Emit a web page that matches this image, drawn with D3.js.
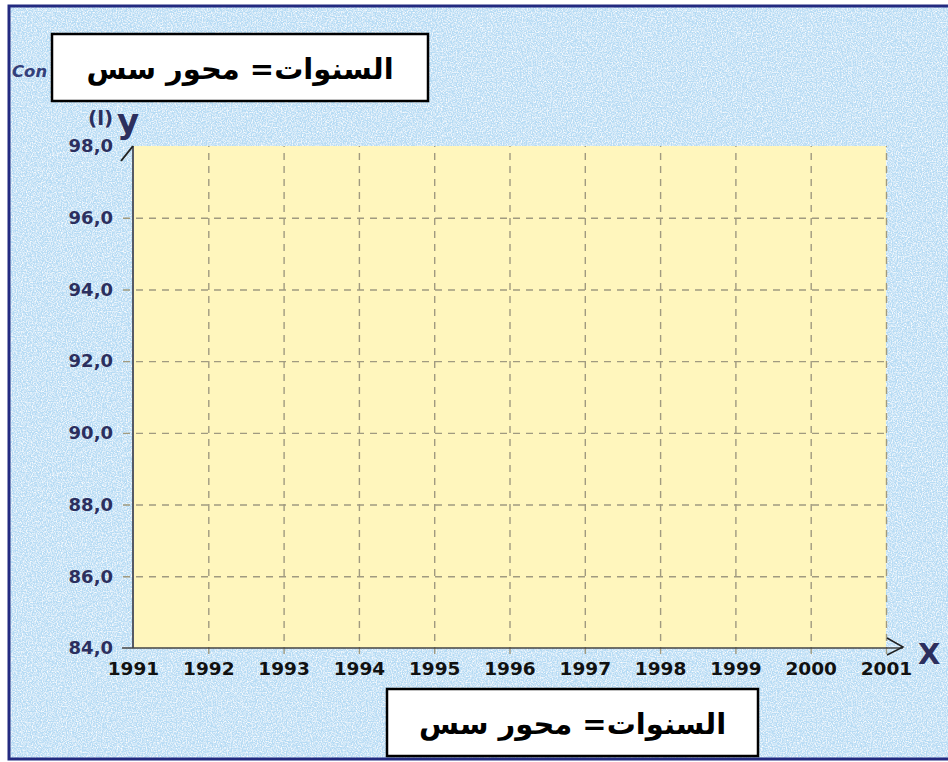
<!DOCTYPE html>
<html>
<head>
<meta charset="utf-8">
<script src="https://cdn.jsdelivr.net/npm/d3@7"></script>
<style>
html,body{margin:0;padding:0;background:#ffffff;}
svg{display:block;}
</style>
</head>
<body>
<script>
// ---- data ----
const years = [1991, 1992, 1993, 1994, 1995, 1996, 1997, 1998, 1999, 2000, 2001];
const yTicks = [84, 86, 88, 90, 92, 94, 96, 98];
const yDomain = [84, 98];
const xDomain = [1991, 2001];
const boxLabel = "السنوات= محور سس";
const hiddenTitle = "Con";
const yUnit = "(l)";
const yName = "y";
const xName = "X";

const W = 948, H = 762;
const svg = d3.select("body").append("svg").attr("width", W).attr("height", H);
const defs = svg.append("defs");

// textured light-blue background
const f = defs.append("filter").attr("id", "tex").attr("x", 0).attr("y", 0).attr("width", "100%").attr("height", "100%");
f.append("feTurbulence").attr("type", "fractalNoise").attr("baseFrequency", 0.8).attr("numOctaves", 2).attr("seed", 3).attr("result", "n");
f.append("feColorMatrix").attr("in", "n").attr("type", "matrix")
  .attr("values", "0 0 0 0 1  0 0 0 0 1  0 0 0 0 1  2.2 0 0 0 -0.85").attr("result", "w");
f.append("feComposite").attr("in", "w").attr("in2", "SourceGraphic").attr("operator", "atop");

svg.append("rect").attr("x", 0).attr("y", 0).attr("width", W).attr("height", H).attr("fill", "#ffffff");
svg.append("rect").attr("x", 9).attr("y", 6).attr("width", W).attr("height", 753)
  .attr("fill", "#b6dbf4").attr("filter", "url(#tex)");
svg.append("rect").attr("x", 9).attr("y", 6).attr("width", W + 10).attr("height", 753)
  .attr("fill", "none").attr("stroke", "#232a80").attr("stroke-width", 3);

// scales
const x = d3.scaleLinear().domain(xDomain).range([133, 886]);
const y = d3.scaleLinear().domain(yDomain).range([648, 146]);

// title fragment visible left of the box
svg.append("text").attr("x", 12).attr("y", 77).text(hiddenTitle)
  .attr("font-family", "DejaVu Sans").attr("font-weight", "bold").attr("font-style", "italic")
  .attr("font-size", 16.5).attr("fill", "#34407a");

// plot background
svg.append("rect").attr("x", x(xDomain[0])).attr("y", y(yDomain[1]))
  .attr("width", x(xDomain[1]) - x(xDomain[0])).attr("height", y(yDomain[0]) - y(yDomain[1]))
  .attr("fill", "#fff6bd");

// grid via axes
const gridY = svg.append("g").attr("transform", `translate(${x(xDomain[0])},0)`)
  .call(d3.axisLeft(y).tickValues(yTicks).tickSize(-(x(xDomain[1]) - x(xDomain[0]))).tickFormat(""));
gridY.select(".domain").remove();
gridY.selectAll(".tick line").attr("stroke", "#a09a80").attr("stroke-width", 1.4).attr("stroke-dasharray", "7,6")
  .attr("x1", -10)
  .filter(d => d === yDomain[0] || d === yDomain[1]).attr("stroke", "none");

const gridX = svg.append("g").attr("transform", `translate(0,${y(yDomain[0])})`)
  .call(d3.axisBottom(x).tickValues(years).tickSize(-(y(yDomain[0]) - y(yDomain[1]))).tickFormat(""));
gridX.select(".domain").remove();
gridX.selectAll(".tick line").attr("stroke", "#a09a80").attr("stroke-width", 1.4).attr("stroke-dasharray", "7,6")
  .attr("y1", 6)
  .filter(d => d === xDomain[0]).attr("stroke", "none");

// y tick labels
const yAx = svg.append("g").attr("transform", `translate(${x(xDomain[0])},0)`)
  .call(d3.axisLeft(y).tickValues(yTicks).tickSize(0).tickPadding(20).tickFormat(d => d3.format(".1f")(d).replace(".", ",")));
yAx.select(".domain").remove();
yAx.selectAll("text").attr("font-family", "DejaVu Sans").attr("font-weight", "bold").attr("font-size", 18)
  .attr("fill", "#2c2f5e");

// x tick labels
const xAx = svg.append("g").attr("transform", `translate(0,${y(yDomain[0])})`)
  .call(d3.axisBottom(x).tickValues(years).tickSize(0).tickPadding(14).tickFormat(d3.format("d")));
xAx.select(".domain").remove();
xAx.selectAll("text").attr("font-family", "DejaVu Sans").attr("font-weight", "bold").attr("font-size", 18.5)
  .attr("fill", "#111111");

// axes lines
svg.append("line").attr("x1", x(xDomain[0])).attr("x2", x(xDomain[0])).attr("y1", y(yDomain[1])).attr("y2", y(yDomain[0]))
  .attr("stroke", "#555a66").attr("stroke-width", 2);
svg.append("line").attr("x1", x(xDomain[0]) - 11).attr("x2", x(xDomain[1]) + 17).attr("y1", y(yDomain[0])).attr("y2", y(yDomain[0]))
  .attr("stroke", "#444444").attr("stroke-width", 1.5);
// y arrow slash
svg.append("line").attr("x1", x(xDomain[0])).attr("y1", y(yDomain[1])).attr("x2", x(xDomain[0]) - 12).attr("y2", y(yDomain[1]) + 15)
  .attr("stroke", "#222").attr("stroke-width", 2);
// x arrow head
svg.append("path")
  .attr("d", `M${x(xDomain[1]) + 1},${y(yDomain[0]) - 10} L${x(xDomain[1]) + 17},${y(yDomain[0]) - 1} L${x(xDomain[1]) + 1},${y(yDomain[0]) + 7}`)
  .attr("fill", "none").attr("stroke", "#222").attr("stroke-width", 1.5);

// axis names
svg.append("text").attr("x", 88).attr("y", 125).text(yUnit)
  .attr("font-family", "DejaVu Sans").attr("font-weight", "bold").attr("font-size", 20).attr("fill", "#2c2f5e");
svg.append("text").attr("x", 117).attr("y", 133).text(yName)
  .attr("font-family", "DejaVu Sans").attr("font-weight", "bold").attr("font-size", 34).attr("fill", "#2c2f5e");
svg.append("text").attr("x", 918).attr("y", 664).text(xName)
  .attr("font-family", "DejaVu Sans").attr("font-weight", "bold").attr("font-size", 29).attr("fill", "#2c2f5e");

// label boxes
function box(x0, y0, w, h) {
  svg.append("rect").attr("x", x0).attr("y", y0).attr("width", w).attr("height", h)
    .attr("fill", "#ffffff").attr("stroke", "#000000").attr("stroke-width", 2.5);
  svg.append("text").attr("x", x0 + w / 2).attr("y", y0 + h / 2 + 11)
    .attr("text-anchor", "middle").attr("direction", "rtl")
    .attr("font-family", "DejaVu Sans").attr("font-weight", "bold").attr("font-size", 29).attr("fill", "#000")
    .text(boxLabel);
}
box(52, 34, 376, 67);
box(387, 689, 371, 67);
</script>
</body>
</html>
